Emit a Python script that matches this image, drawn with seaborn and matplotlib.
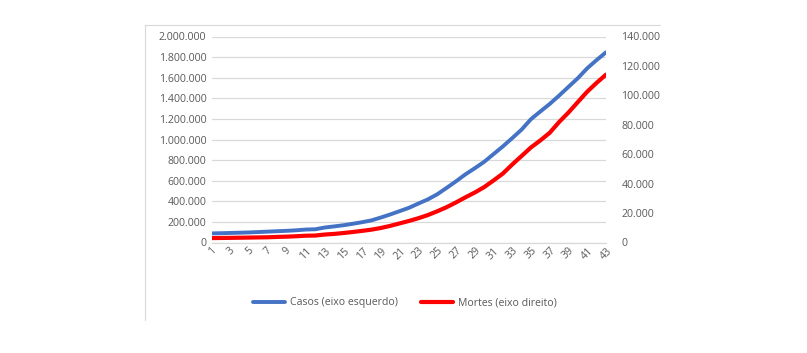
import numpy as np
import pandas as pd
import seaborn as sns
import matplotlib.pyplot as plt
from matplotlib.lines import Line2D
from matplotlib.ticker import FuncFormatter

dias = list(range(1, 44))
casos = [88369, 90306, 92840, 95120, 97886, 101801, 105847, 109821, 113590, 118620,
         125875, 128352, 145205, 156101, 167454, 181574, 197102, 214821, 242570, 272208,
         304507, 336953, 378235, 418045, 467653, 529591, 593291, 660706, 720117, 782365,
         857487, 932605, 1013157, 1095917, 1197405, 1272115, 1345101, 1426096, 1511104,
         1595350, 1691719, 1771514, 1846679]
mortes = [2996, 3085, 3160, 3254, 3348, 3460, 3558, 3802, 3988, 4262,
          4615, 4720, 5404, 5819, 6440, 7126, 7905, 8733, 9867, 11299,
          12973, 14651, 16505, 18625, 21181, 23970, 27198, 30652, 33925, 37582,
          42107, 46809, 52983, 58787, 64606, 69374, 74565, 81865, 88338, 95455,
          102525, 108503, 114091]
rotulos = ["Casos (eixo esquerdo)", "Mortes (eixo direito)"]

df = pd.DataFrame({"dia": dias, "casos": casos, "mortes": mortes})

sns.set_style("white")
plt.rcParams['font.family'] = ['Open Sans', 'DejaVu Sans']

azul = '#4472C4'
vermelho = '#FF0000'
cinza = '#595959'
grade = '#d9d9d9'

fig = plt.figure(figsize=(8.07, 3.53), dpi=100)
ax = fig.add_axes([212/807, 1 - 242.5/353, (606 - 212)/807, 206/353])
ax2 = ax.twinx()

sns.lineplot(data=df, x="dia", y="casos", ax=ax, color=azul, linewidth=2.8)
sns.lineplot(data=df, x="dia", y="mortes", ax=ax2, color=vermelho, linewidth=3.0)

fmt = FuncFormatter(lambda v, p: f"{int(v):,}".replace(",", "."))

ax.set_xlim(1, 43)
ax.set_ylim(0, 2000000)
ax.set_yticks(np.arange(0, 2000001, 200000))
ax.yaxis.set_major_formatter(fmt)
ax2.set_ylim(0, 140000)
ax2.set_yticks(np.arange(0, 140001, 20000))
ax2.yaxis.set_major_formatter(fmt)

ax.set_xticks(dias[::2])
ax.set_xticklabels([str(d) for d in dias[::2]], rotation=45, ha='center')

ax.grid(axis='y', color=grade, linewidth=0.9)
ax.set_axisbelow(True)
for a in (ax, ax2):
    for s in a.spines.values():
        s.set_visible(False)
    a.set_xlabel("")
    a.set_ylabel("")
ax.spines['bottom'].set_visible(True)
ax.spines['bottom'].set_color(grade)
ax.spines['bottom'].set_linewidth(0.9)

ax.tick_params(axis='y', length=0, pad=4, labelsize=7.6, labelcolor=cinza)
ax2.tick_params(axis='y', length=0, pad=11, labelsize=7.6, labelcolor=cinza)
ax.tick_params(axis='x', length=0, pad=2, labelsize=7.6, labelcolor=cinza)

handles = [Line2D([0], [0], color=azul, linewidth=2.8),
           Line2D([0], [0], color=vermelho, linewidth=3.0)]
fig.legend(handles, rotulos, loc='center', bbox_to_anchor=(405/807, 1 - 303/353),
           ncol=2, frameon=False, fontsize=7.6, labelcolor=cinza,
           handlelength=3.0, columnspacing=2.2, handletextpad=0.5)

fig.add_artist(Line2D([145/807, 145/807], [1 - 25/353, 1 - 320/353],
                      transform=fig.transFigure, color=grade, linewidth=0.8))
fig.add_artist(Line2D([145/807, 660/807], [1 - 25/353, 1 - 25/353],
                      transform=fig.transFigure, color=grade, linewidth=0.8))

fig.savefig('out.png', dpi=100)
